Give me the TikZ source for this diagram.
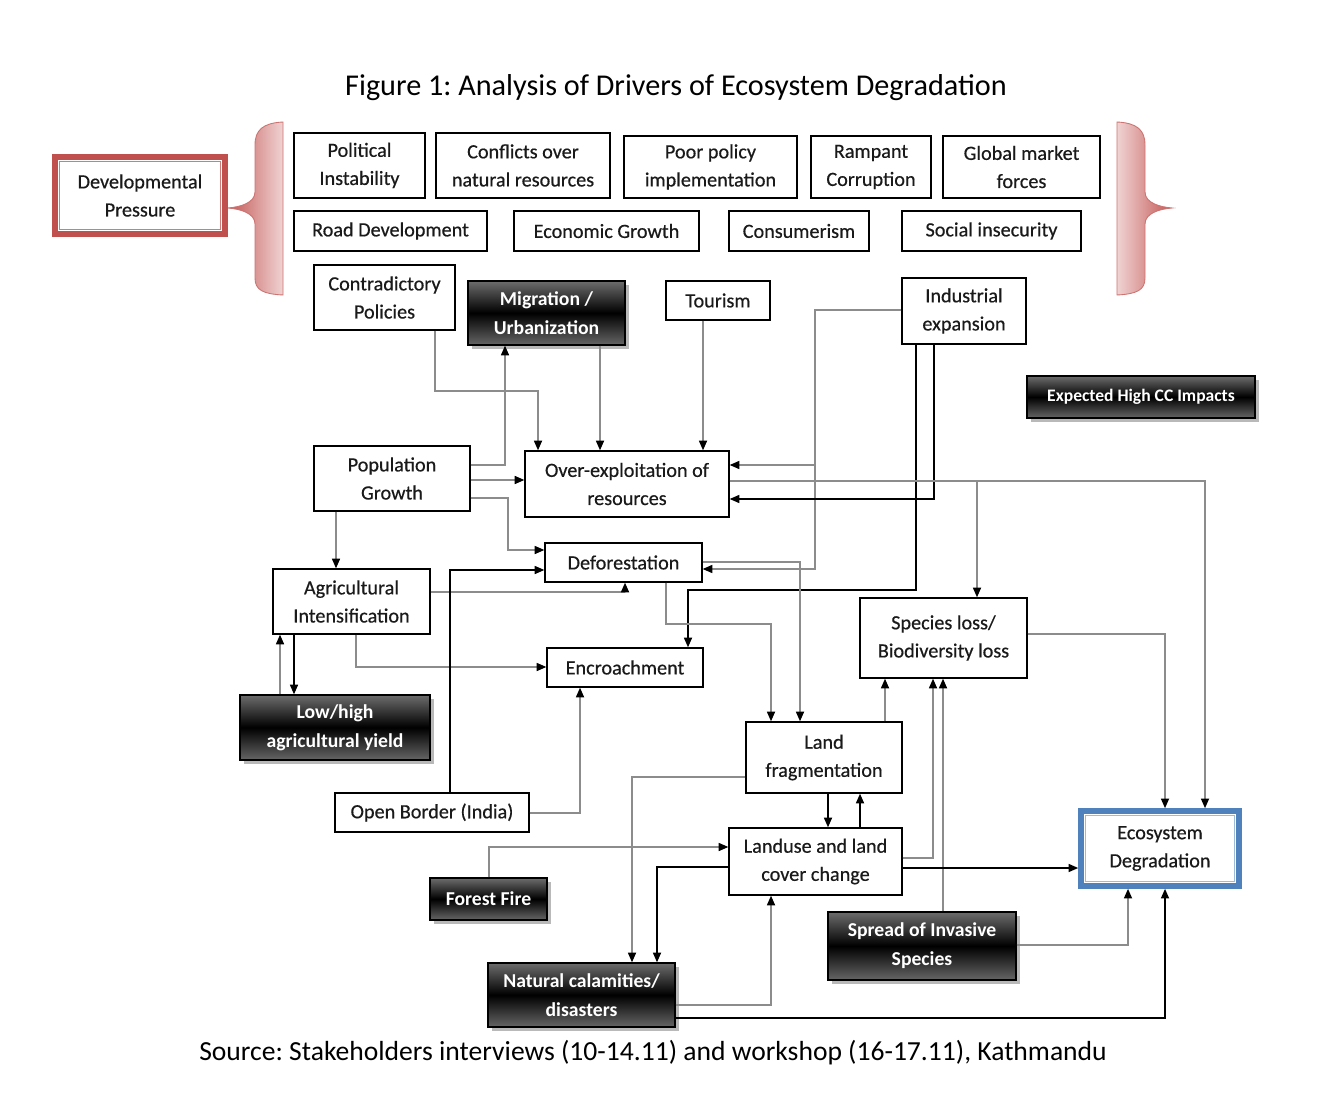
\documentclass[tikz,border=0pt]{standalone}
\usepackage{fontspec}
\setmainfont{Carlito}
\newfontfamily\boxfont{Carlito}[FakeBold=0.5]
\frenchspacing
\usetikzlibrary{arrows.meta,shadows}
\definecolor{redc}{HTML}{C0504D}
\definecolor{bluec}{HTML}{4F81BD}
\definecolor{lgray}{HTML}{8C8C8C}
\definecolor{txt}{HTML}{1A1A1A}
\newcommand\B[7]{%
  \pgfmathsetmacro\cx{(#2+#4)/2}\pgfmathsetmacro\cy{(#3+#5)/2}%
  \pgfmathsetmacro\ww{(#4-#2)*0.02}\pgfmathsetmacro\hh{(#5-#3)*0.02}%
  \node[#6, minimum width=\ww cm, minimum height=\hh cm] (#1) at (\cx,\cy) {#7};}
\begin{document}
\begin{tikzpicture}[x=0.02cm,y=-0.02cm,
  box/.style={draw=black, line width=0.8pt, fill=white, inner sep=0pt, align=center,
    text=txt, font=\boxfont\fontsize{11.5}{16}\selectfont},
  dark/.style={draw=black, line width=0.8pt, inner sep=0pt, align=center,
    top color=gray!85!black, bottom color=gray!80!black, middle color=black,
    drop shadow={shadow xshift=2.2pt, shadow yshift=-2.2pt, fill=gray!55, opacity=1},
    text=white, font=\bfseries\fontsize{11.2}{16.4}\selectfont},
  devbox/.style={draw=redc, line width=3.2pt, fill=white, inner sep=0pt, align=center,
    text=txt, font=\boxfont\fontsize{11.5}{16}\selectfont},
  ecobox/.style={draw=bluec, line width=3.2pt, fill=white, inner sep=0pt, align=center,
    text=txt, font=\boxfont\fontsize{11.5}{16}\selectfont},
  g/.style={draw=lgray, line width=0.8pt, -{Triangle[length=5.5pt,width=4.6pt,color=black]}},
  k/.style={draw=black, line width=0.8pt, -{Triangle[length=5.5pt,width=4.6pt,color=black]}},
  brace/.style={draw=redc!80, line width=0.5pt}
]
\useasboundingbox (0,0) rectangle (1328,1094);
\fill[white] (0,0) rectangle (1328,1094);

% title and source
\node[font=\fontsize{17.2}{20}\selectfont] (title) at (676,88) {Figure 1: Analysis of Drivers of Ecosystem Degradation};
\node[font=\fontsize{15.7}{18}\selectfont] (src) at (653,1053) {Source: Stakeholders interviews (10-14.11) and workshop (16-17.11), Kathmandu};

% braces
\path[brace, left color=redc!95, right color=redc!25] (283,122) .. controls (263,123) and (255,130) .. (255,145) -- (255,192)
  .. controls (255,203) and (240,207) .. (228,208) .. controls (240,209) and (255,213) .. (255,224)
  -- (255,278) .. controls (255,290) and (263,294) .. (283,295) -- cycle;
\path[brace, left color=redc!25, right color=redc!95] (1117,122) .. controls (1137,123) and (1145,130) .. (1145,145) -- (1145,192)
  .. controls (1145,203) and (1160,207) .. (1172,208) .. controls (1160,209) and (1145,213) .. (1145,224)
  -- (1145,278) .. controls (1145,290) and (1137,294) .. (1117,295) -- cycle;

% nodes
\B{dev}{55}{157}{225}{234}{devbox}{Developmental\\Pressure}
\draw[redc!75, line width=0.7pt] ([shift={(4.2pt,-4.2pt)}]dev.north west) rectangle ([shift={(-4.2pt,4.2pt)}]dev.south east);
\B{pol}{294}{133}{425}{198}{box}{Political\\Instability}
\B{conf}{436}{133}{610}{198}{box}{Conflicts over\\natural resources}
\B{poor}{624}{136}{797}{198}{box}{Poor policy\\implementation}
\B{ramp}{811}{136}{931}{198}{box}{Rampant\\Corruption}
\B{glob}{943}{136}{1100}{198}{box}{Global market\\forces}
\B{road}{294}{211}{487}{251}{box}{Road Development}
\B{econ}{514}{211}{699}{251}{box}{Economic Growth}
\B{cons}{729}{211}{869}{251}{box}{Consumerism}
\B{soc}{902}{211}{1081}{251}{box}{Social insecurity}
\B{contra}{314}{265}{455}{330}{box}{Contradictory\\Policies}
\B{mig}{468}{281}{625}{345}{dark}{Migration /\\Urbanization}
\B{tour}{666}{281}{770}{320}{box}{Tourism}
\B{ind}{902}{278}{1026}{344}{box}{Industrial\\expansion}
\B{cc}{1027}{376}{1255}{418}{dark, font=\bfseries\fontsize{10}{12}\selectfont}{Expected High CC Impacts}
\B{pop}{314}{446}{470}{511}{box}{Population\\Growth}
\B{oe}{525}{451}{729}{517}{box}{Over-exploitation of\\resources}
\B{def}{545}{543}{702}{582}{box}{Deforestation}
\B{agri}{273}{569}{430}{634}{box}{Agricultural\\Intensification}
\B{enc}{547}{648}{703}{687}{box}{Encroachment}
\B{spec}{860}{598}{1027}{678}{box}{Species loss/\\Biodiversity loss}
\B{low}{240}{695}{430}{760}{dark}{Low/high\\agricultural yield}
\B{land}{746}{722}{902}{793}{box}{Land\\fragmentation}
\B{open}{335}{793}{529}{832}{box}{Open Border (India)}
\B{luc}{729}{828}{902}{895}{box}{Landuse and land\\cover change}
\B{eco}{1081}{811}{1239}{886}{ecobox}{Ecosystem\\Degradation}
\draw[bluec!55, line width=0.7pt] ([shift={(4.2pt,-4.2pt)}]eco.north west) rectangle ([shift={(-4.2pt,4.2pt)}]eco.south east);
\B{fire}{430}{878}{547}{920}{dark}{Forest Fire}
\B{inv}{828}{912}{1016}{980}{dark}{Spread of Invasive\\Species}
\B{nat}{488}{963}{675}{1027}{dark}{Natural calamities/\\disasters}

% connectors
\draw[g] (contra.south -| 435,0) |- (538,391) -- (oe.north -| 538,0);
\draw[g] (pop.east |- 0,465) -| (mig.south -| 505,0);
\draw[g] (mig.south -| 600,0) -- (oe.north -| 600,0);
\draw[g] (tour.south -| 703,0) -- (oe.north -| 703,0);
\draw[g] (pop.east |- 0,480) -- (oe.west |- 0,480);
\draw[g] (pop.east |- 0,498) -| (508,550) -- (def.west |- 0,550);
\coordinate (j1) at (815,465);
\draw[g] (ind.west |- 0,310) -| (815,569) -- (def.east |- 0,569);
\draw[g] (j1) -- (oe.east |- 0,465);
\draw[k] (ind.south -| 934,0) |- (oe.east |- 0,499);
\draw[k] (ind.south -| 916,0) |- (688,590) -- (enc.north -| 688,0);
\coordinate (j2) at (977,481);
\draw[g] (oe.east |- 0,481) -| (eco.north -| 1205,0);
\draw[g] (j2) -- (spec.north -| 977,0);
\draw[g] (pop.south -| 336,0) -- (agri.north -| 336,0);
\draw[g] (agri.east |- 0,592) -| (def.south -| 625,0);
\draw[g] (agri.south -| 356,0) |- (enc.west |- 0,667);
\draw[k] (agri.south -| 294,0) -- (low.north -| 294,0);
\draw[g] (low.north -| 280,0) -- (agri.south -| 280,0);
\draw[k] (open.north -| 450,0) |- (def.west |- 0,570);
\draw[g] (open.east |- 0,813) -| (enc.south -| 580,0);
\draw[g] (def.south -| 666,0) |- (771,624) -- (land.north -| 771,0);
\draw[g] (def.east |- 0,562) -| (land.north -| 800,0);
\draw[g] (land.north -| 885,0) -- (spec.south -| 885,0);
\draw[k] (land.south -| 828,0) -- (luc.north -| 828,0);
\draw[k] (luc.north -| 860,0) -- (land.south -| 860,0);
\draw[g] (land.west |- 0,777) -| (nat.north -| 632,0);
\draw[k] (luc.west |- 0,867) -| (nat.north -| 657,0);
\draw[g] (fire.north -| 489,0) |- (luc.west |- 0,847);
\draw[g] (nat.east |- 0,1005) -| (luc.south -| 771,0);
\draw[k] (nat.east |- 0,1018) -| (eco.south -| 1165,0);
\draw[g] (luc.east |- 0,858) -| (spec.south -| 933,0);
\draw[g] (inv.north -| 943,0) -- (spec.south -| 943,0);
\draw[k] (luc.east |- 0,868) -- (eco.west |- 0,868);
\draw[g] (inv.east |- 0,945) -| (eco.south -| 1128,0);
\draw[g] (spec.east |- 0,634) -| (eco.north -| 1165,0);
\end{tikzpicture}
\end{document}
